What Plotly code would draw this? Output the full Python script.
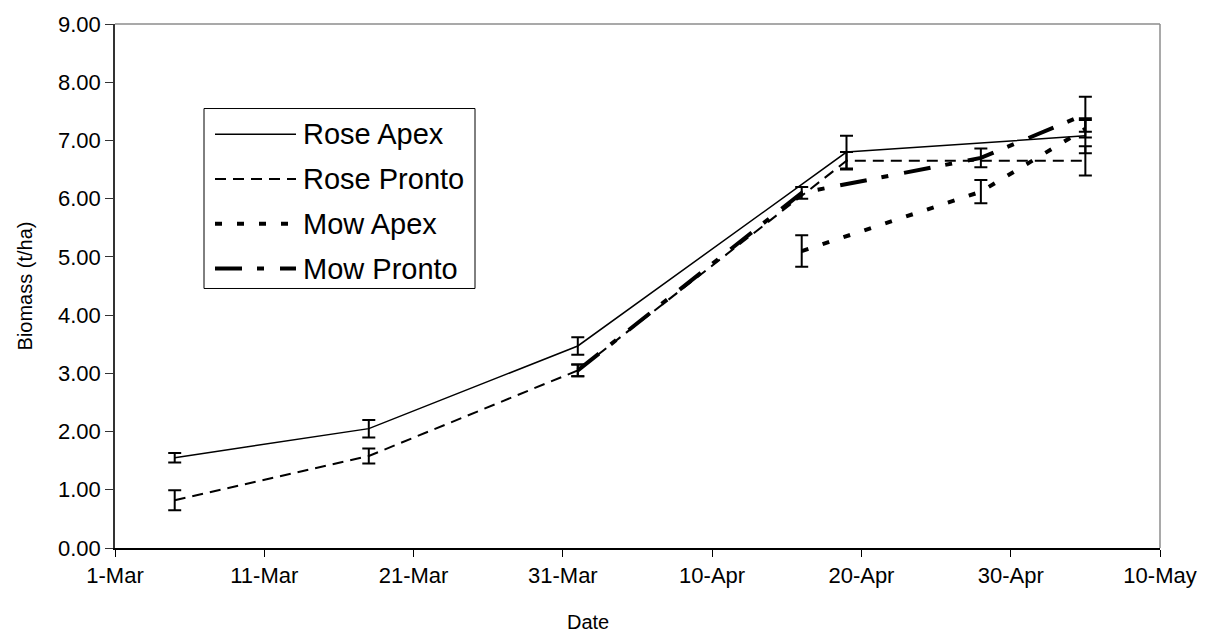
import plotly.graph_objects as go

# Sampling dates and biomass (t/ha) per treatment, with standard errors
rose_apex_dates = ["2005-03-05", "2005-03-18", "2005-04-01", "2005-04-19", "2005-05-05"]
rose_apex_vals = [1.55, 2.05, 3.47, 6.80, 7.08]
rose_apex_err = [0.08, 0.15, 0.15, 0.28, 0.30]

rose_pronto_dates = ["2005-03-05", "2005-03-18", "2005-04-01", "2005-04-19", "2005-05-05"]
rose_pronto_vals = [0.82, 1.58, 3.05, 6.65, 6.65]
rose_pronto_err = [0.17, 0.13, 0.10, 0.15, 0.25]

mow_apex_dates = ["2005-04-16", "2005-04-28", "2005-05-05"]
mow_apex_vals = [5.10, 6.12, 7.20]
mow_apex_err = [0.27, 0.20, 0.15]

mow_pronto_dates = ["2005-04-01", "2005-04-16", "2005-04-28", "2005-05-05"]
mow_pronto_vals = [3.05, 6.10, 6.70, 7.45]
mow_pronto_err = [0.10, 0.10, 0.16, 0.30]

x_tick_dates = ["2005-03-01", "2005-03-11", "2005-03-21", "2005-03-31",
                "2005-04-10", "2005-04-20", "2005-04-30", "2005-05-10"]
x_tick_text = ["1-Mar", "11-Mar", "21-Mar", "31-Mar", "10-Apr", "20-Apr", "30-Apr", "10-May"]
y_ticks = [0, 1, 2, 3, 4, 5, 6, 7, 8, 9]

series = [
    ("Rose Apex", rose_apex_dates, rose_apex_vals, rose_apex_err, 1.5, "solid"),
    ("Rose Pronto", rose_pronto_dates, rose_pronto_vals, rose_pronto_err, 2.0, "11px,7px"),
    ("Mow Apex", mow_apex_dates, mow_apex_vals, mow_apex_err, 4.0, "7px,15px"),
    ("Mow Pronto", mow_pronto_dates, mow_pronto_vals, mow_pronto_err, 4.0, "27px,15px,7px,16px"),
]

fig = go.Figure()
for name, xs, ys, es, w, dash in series:
    fig.add_trace(go.Scatter(
        x=xs, y=ys, name=name, mode="lines",
        line=dict(color="black", width=w, dash=dash),
        error_y=dict(type="data", array=es, visible=True, color="black",
                     thickness=2, width=6.5),
        showlegend=False,
    ))

font = "Liberation Sans, Arial, sans-serif"

W, H = 1214, 639
L, R, T, B = 115, 54, 21, 91
pw, ph = W - L - R, H - T - B


def px(x):
    return (x - L) / pw


def py(y):
    return 1 - (y - T) / ph


# Boxed key in the upper left of the plot area
shapes = []
annotations = []
shapes.append(dict(type="rect", xref="paper", yref="paper",
                   x0=px(204), x1=px(475), y0=py(287), y1=py(106),
                   line=dict(color="black", width=1), fillcolor="white", layer="above"))
for i, (name, _, _, _, w, dash) in enumerate(series):
    yc = 132 + i * 45
    shapes.append(dict(type="line", xref="paper", yref="paper",
                       x0=px(215), x1=px(296), y0=py(yc), y1=py(yc),
                       line=dict(color="black", width=w, dash=dash), layer="above"))
    annotations.append(dict(text=name, xref="paper", yref="paper",
                            x=px(301), y=py(yc), xanchor="left", yanchor="middle",
                            showarrow=False, font=dict(family=font, size=29, color="black")))

# X axis title
annotations.append(dict(text="Date", xref="paper", yref="paper",
                        x=px(588), y=py(622), xanchor="center", yanchor="middle",
                        showarrow=False, font=dict(family=font, size=20, color="black")))

# Grey frame on top and right of plot area
shapes.append(dict(type="line", xref="paper", yref="paper", x0=0, x1=1, y0=1, y1=1,
                   line=dict(color="#8c8c8c", width=1.5)))
shapes.append(dict(type="line", xref="paper", yref="paper", x0=1, x1=1, y0=0, y1=1,
                   line=dict(color="#8c8c8c", width=1.5)))

fig.update_layout(
    width=W, height=H,
    margin=dict(l=L, r=R, t=T, b=B),
    paper_bgcolor="white", plot_bgcolor="white",
    font=dict(family=font, size=22, color="black"),
    shapes=shapes, annotations=annotations,
    xaxis=dict(
        type="date", range=["2005-03-01", "2005-05-10"],
        tickvals=x_tick_dates, ticktext=x_tick_text,
        showgrid=False, zeroline=False, showline=True, linecolor="black", linewidth=1.5,
        ticks="outside", ticklen=7, tickcolor="black", tickwidth=1,
        tickfont=dict(size=22),
    ),
    yaxis=dict(
        range=[0, 9], tickvals=y_ticks, tickformat=".2f",
        showgrid=False, zeroline=False, showline=True, linecolor="#333333", linewidth=1.5,
        ticks="outside", ticklen=8, tickcolor="#333333", tickwidth=1,
        tickfont=dict(size=22),
        title=dict(text="Biomass (t/ha)", font=dict(size=20), standoff=20),
    ),
)

fig.write_html("out.html")
